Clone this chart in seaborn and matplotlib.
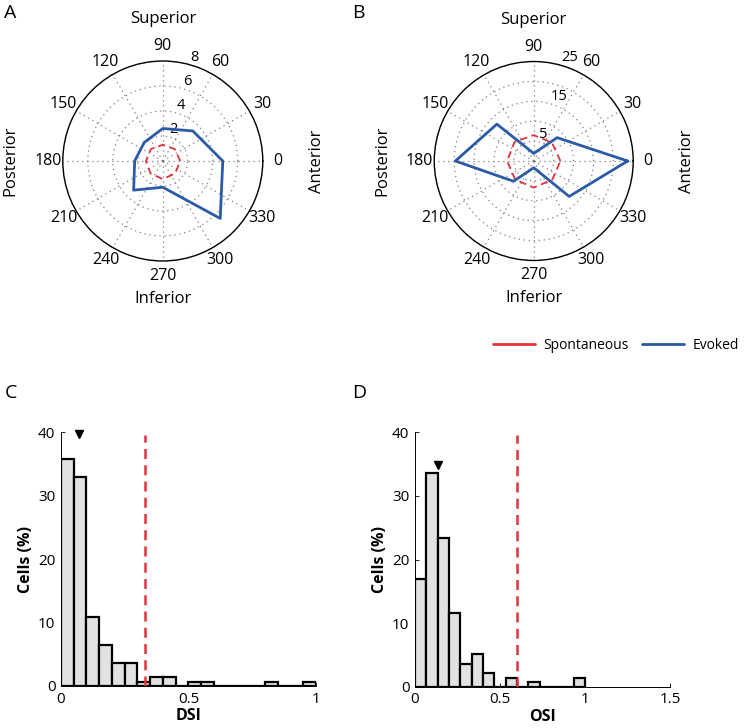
import numpy as np
import pandas as pd
import matplotlib
matplotlib.use("Agg")
import matplotlib.pyplot as plt
from matplotlib.lines import Line2D
import seaborn as sns

# polar tuning curves, 8 stimulus directions (deg)
directions = [0, 45, 90, 135, 180, 225, 270, 315]
evoked_a = [4.8, 3.4, 2.6, 2.1, 2.25, 3.3, 2.1, 6.5]
spont_a = [1.4, 1.35, 1.3, 1.35, 1.35, 1.4, 1.45, 1.4]
evoked_b = [23.6, 8.3, 1.9, 13.1, 19.7, 7.2, 1.7, 12.6]
spont_b = [6.7, 6.5, 6.5, 6.8, 6.7, 6.6, 6.7, 6.6]
rticks_a = [2, 4, 6, 8]
rticks_b = [5, 10, 15, 20, 25]
rlabels_b = ['5', '', '15', '', '25']

# DSI / OSI histograms (% of cells per bin)
dsi_edges = np.linspace(0, 1, 21)
dsi_pct = [35.8, 32.9, 10.9, 6.5, 3.6, 3.6, 0.7, 1.4, 1.4, 0.0,
           0.7, 0.7, 0.0, 0.0, 0.0, 0.0, 0.7, 0.0, 0.0, 0.7]
osi_edges = np.linspace(0, 1, 16)
osi_pct = [16.9, 33.6, 23.4, 11.6, 3.6, 5.1, 2.1, 0.0, 1.4, 0.0,
           0.7, 0.0, 0.0, 0.0, 1.4]
dsi_thresh, osi_thresh = 0.33, 0.6
dsi_median, osi_median = 0.07, 0.137

BLUE = '#2b5aa6'
RED = '#e2333a'

sns.set_style("white")
plt.rcParams['font.family'] = ['Open Sans', 'DejaVu Sans']
for k in ['text.color', 'axes.labelcolor', 'xtick.color', 'ytick.color']:
    plt.rcParams[k] = 'black'

fig = plt.figure(figsize=(7.5, 7.28), dpi=100)


def polar_panel(rect, evoked, spont, rmax, rticks, rlabels, letter, lx):
    ax = fig.add_axes(rect, projection='polar')
    th = np.deg2rad(directions + [directions[0]])
    ax.plot(th, spont + [spont[0]], color=RED, lw=1.3, ls=(0, (4, 2.5)))
    ax.plot(th, evoked + [evoked[0]], color=BLUE, lw=2)
    ax.set_ylim(0, rmax)
    ax.set_yticks(rticks)
    ax.set_yticklabels(rlabels, fontsize=10.5)
    ax.set_rlabel_position(74)
    ax.set_thetagrids(range(0, 360, 30), [str(a) for a in range(0, 360, 30)], fontsize=11.5)
    ax.tick_params(axis='x', pad=0)
    ax.grid(True, color='#808080', ls=(0, (1, 3)), lw=0.9)
    ax.spines['polar'].set_color('black')
    ax.spines['polar'].set_linewidth(1)
    # direction names
    ax.text(0.5, 1.21, 'Superior', transform=ax.transAxes, ha='center', va='center', fontsize=12)
    ax.text(0.5, -0.19, 'Inferior', transform=ax.transAxes, ha='center', va='center', fontsize=12)
    ax.text(-0.26, 0.5, 'Posterior', transform=ax.transAxes, ha='center', va='center',
            rotation=90, fontsize=12)
    ax.text(1.27, 0.5, 'Anterior', transform=ax.transAxes, ha='center', va='center',
            rotation=90, fontsize=12)
    fig.text(lx, 0.982, letter, fontsize=14, ha='left', va='center')
    return ax


polar_panel([0.0837, 0.6415, 0.2667, 0.2747], evoked_a, spont_a, 8,
            rticks_a, [str(t) for t in rticks_a], 'A', 0.006)
polar_panel([0.579, 0.6422, 0.2653, 0.2733], evoked_b, spont_b, 25,
            rticks_b, rlabels_b, 'B', 0.469)

handles = [Line2D([], [], color=RED, lw=2), Line2D([], [], color=BLUE, lw=2)]
fig.legend(handles, ['Spontaneous', 'Evoked'], loc='center', bbox_to_anchor=(0.821, 0.526),
           ncol=2, frameon=False, fontsize=10, handlelength=3, columnspacing=1.0,
           handletextpad=0.6)


def hist_panel(rect, edges, pct, thresh, med, med_y, xmax, xticks, xlabels, xlab, letter, lx):
    ax = fig.add_axes(rect)
    df = pd.DataFrame({'center': (edges[:-1] + edges[1:]) / 2, 'pct': pct})
    sns.histplot(data=df, x='center', weights='pct', bins=list(edges), ax=ax,
                 color='#e1e2e4', edgecolor='black', linewidth=1.6, alpha=1)
    ax.axvline(thresh, color=RED, lw=1.8, ls=(0, (4, 2.5)), ymax=0.99)
    ax.plot(med, med_y, marker='v', color='black', ms=5.5, clip_on=False)
    ax.set_xlim(0, xmax)
    ax.set_ylim(0, 40)
    ax.set_xticks(xticks)
    ax.set_xticklabels(xlabels)
    ax.set_yticks([0, 10, 20, 30, 40])
    ax.tick_params(direction='in', length=3, width=0.6, labelsize=11, pad=4,
                   left=True, bottom=True)
    for s in ['top', 'right']:
        ax.spines[s].set_visible(False)
    for s in ['left', 'bottom']:
        ax.spines[s].set_linewidth(0.7)
        ax.spines[s].set_color('black')
    ax.set_ylabel('Cells (%)', fontsize=11.5, fontweight='bold', labelpad=3)
    ax.set_xlabel(xlab, fontsize=11.5, fontweight='bold', labelpad=1)
    fig.text(lx, 0.46, letter, fontsize=14, ha='left', va='center')
    return ax


hist_panel([0.0813, 0.0577, 0.34, 0.3485], dsi_edges, dsi_pct, dsi_thresh, dsi_median, 39.7,
           1, [0, 0.5, 1], ['0', '0.5', '1'], 'DSI', 'C', 0.006)
hist_panel([0.5533, 0.0567, 0.34, 0.3495], osi_edges, osi_pct, osi_thresh, osi_median, 34.8,
           1.5, [0, 0.5, 1, 1.5], ['0', '0.5', '1', '1.5'], 'OSI', 'D', 0.469)

fig.savefig('out.png', dpi=100)
